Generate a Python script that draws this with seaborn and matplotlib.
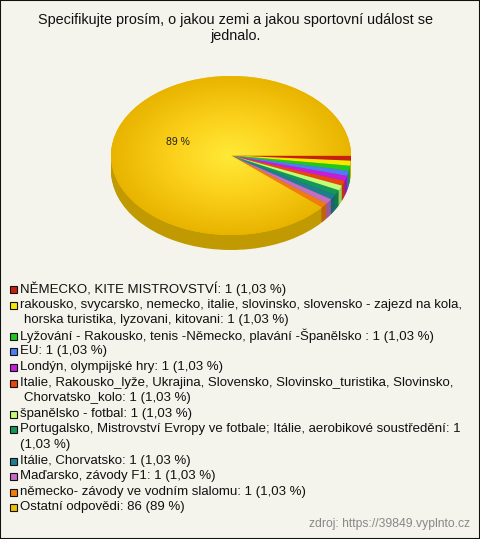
import numpy as np
import matplotlib
matplotlib.use("Agg")
import matplotlib.pyplot as plt
import seaborn as sns
from matplotlib.colors import LinearSegmentedColormap, to_rgb
from matplotlib.patches import Rectangle

# Data
TITLE = "Specifikujte prosím, o jakou zemi a jakou sportovní událost se\njednalo."
labels = [
    "NĚMECKO, KITE MISTROVSTVÍ",
    "rakousko, svycarsko, nemecko, italie, slovinsko, slovensko - zajezd na kola,\nhorska turistika, lyzovani, kitovani",
    "Lyžování - Rakousko, tenis -Německo, plavání -Španělsko ",
    "EU",
    "Londýn, olympijské hry",
    "Italie, Rakousko_lyže, Ukrajina, Slovensko, Slovinsko_turistika, Slovinsko,\nChorvatsko_kolo",
    "španělsko - fotbal",
    "Portugalsko, Mistrovství Evropy ve fotbale; Itálie, aerobikové soustředění",
    "Itálie, Chorvatsko",
    "Maďarsko, závody F1",
    "německo- závody ve vodním slalomu",
    "Ostatní odpovědi",
]
counts = [1, 1, 1, 1, 1, 1, 1, 1, 1, 1, 1, 86]
pct_text = ["1,03 %"] * 11 + ["89 %"]
colors = ["#c8200e", "#f5e900", "#1ec81e", "#4f7cf2", "#c41edc", "#e8450f",
          "#c3fc76", "#14985a", "#1f7e8e", "#c36ec3", "#f07c10", "#f0c000"]

BG = "#f4f4ec"
DEPTH = 15 / 79.5

sns.set_theme(style="white")
plt.rcParams['font.family'] = ['Liberation Sans', 'DejaVu Sans']

fig = plt.figure(figsize=(4.8, 5.39), dpi=100, facecolor=BG)
W, H = 480, 539

# pie axes: center (231,155), rx 120, ry 79.5
ax = fig.add_axes([111 / W, 1 - 250 / H, 240 / W, 174 / H])
ax.set_facecolor("none")

side_cols = [tuple(c * 0.8 for c in to_rgb(col)) for col in colors]
steps = 16
for k in range(steps, 0, -1):
    ax.pie(counts, colors=side_cols, startangle=0, counterclock=False,
           center=(0, -DEPTH * k / steps), radius=1,
           wedgeprops=dict(linewidth=0))

def big_only(p):
    return "89 %" if p > 50 else ""

wedges, _, autotexts = ax.pie(counts, colors=colors, startangle=0, counterclock=False,
                              radius=1, autopct=big_only, pctdistance=0.47,
                              wedgeprops=dict(linewidth=0),
                              textprops=dict(fontsize=7.5, color="#222222"))

# radial gradient on the large wedge
yy, xx = np.mgrid[-1:1:300j, -1:1:300j]
rr = np.sqrt(xx ** 2 + yy ** 2)
cmap = LinearSegmentedColormap.from_list("gold", ["#ffea38", "#fbd01a", "#e8b400"])
im = ax.imshow(rr, extent=(-1, 1, -1, 1), cmap=cmap, vmin=0, vmax=1,
               aspect="auto", origin="lower", zorder=wedges[-1].get_zorder() + 0.1)
im.set_clip_path(wedges[-1])
for t in autotexts:
    t.set_zorder(5)

ax.set_xlim(-1, 1)
ax.set_ylim(-1 - DEPTH, 1)
ax.set_aspect("auto")
ax.axis("off")

# title
fig.text(235.5 / W, 1 - 28 / H, TITLE, ha="center", va="center", fontsize=10.4,
         color="#111111", linespacing=1.12)

# legend, one text per line
LINE = 15.6
y = 289
for lab, cnt, pt, col in zip(labels, counts, pct_text, colors):
    full = f"{lab}: {cnt} ({pt})"
    if lab.startswith("Portugalsko"):
        full = f"{lab}: {cnt}\n({pt})"
    fig.patches.append(Rectangle((10 / W, 1 - (y + 4) / H), 7 / W, 7 / H,
                                 transform=fig.transFigure, facecolor=col,
                                 edgecolor="#111111", linewidth=0.8))
    for i, line in enumerate(full.split("\n")):
        x = 20 if (i == 0 or line.startswith("(")) else 24.5
        fig.text(x / W, 1 - y / H, line, ha="left", va="center", fontsize=9.5,
                 color="#111111")
        y += LINE

fig.text(470 / W, 1 - 524 / H, "zdroj: https://39849.vyplnto.cz", ha="right",
         va="center", fontsize=8.7, color="#888888")

fig.patches.append(Rectangle((0, 0), 1, 1, transform=fig.transFigure,
                             fill=False, edgecolor="#111111", linewidth=1.5))

fig.savefig("out.png", dpi=100, facecolor=BG)
